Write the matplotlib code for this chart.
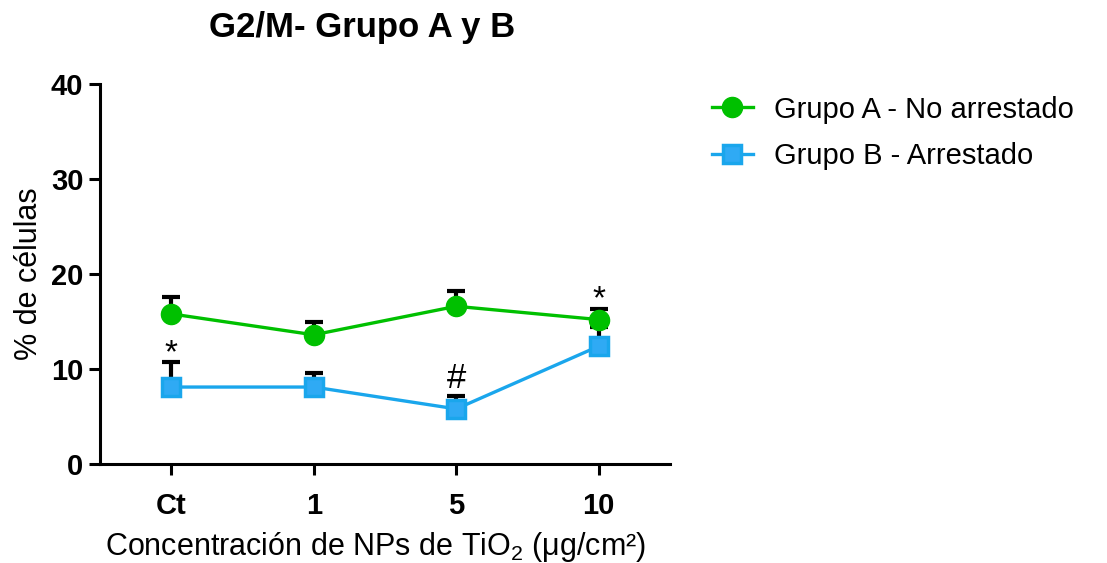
import matplotlib
matplotlib.use("Agg")
import matplotlib.pyplot as plt
from matplotlib.lines import Line2D

plt.rcParams['font.family'] = ['Liberation Sans', 'DejaVu Sans']
plt.rcParams['mathtext.fontset'] = 'custom'
plt.rcParams['mathtext.rm'] = 'Liberation Sans'
plt.rcParams['mathtext.default'] = 'regular'

categories = ["Ct", "1", "5", "10"]
grupo_a = [15.8, 13.6, 16.6, 15.2]
grupo_a_err = [1.8, 1.3, 1.6, 1.1]
grupo_b = [8.1, 8.1, 5.8, 12.4]
grupo_b_err = [2.6, 1.5, 1.4, 2.0]
# significance marks: (category index, series, symbol)
marks = [(0, "B", "*"), (3, "A", "*"), (2, "B", "#")]

green = "#00C000"
blue = "#1AA6EC"
blue_face = "#2FAAF4"

fig = plt.figure(figsize=(11.07, 5.63), dpi=100)
ax = fig.add_axes([100 / 1107, 99 / 563, 570 / 1107, 380 / 563])

x = list(range(len(categories)))

for vals, errs in ((grupo_a, grupo_a_err), (grupo_b, grupo_b_err)):
    ax.errorbar(x, vals, yerr=[[0] * len(vals), errs], fmt='none', ecolor='black',
                elinewidth=3, capsize=6.5, capthick=3, zorder=2)

ax.plot(x, grupo_a, color=green, lw=2.4, marker='o', markersize=14.5,
        markerfacecolor=green, markeredgecolor=green, zorder=3)
ax.plot(x, grupo_b, color=blue, lw=2.4, marker='s', markersize=13.5,
        markerfacecolor=blue_face, markeredgecolor=blue, markeredgewidth=2.5,
        zorder=3)

for i, series, sym in marks:
    vals, errs = (grupo_a, grupo_a_err) if series == "A" else (grupo_b, grupo_b_err)
    top = vals[i] + errs[i]
    if sym == "*":
        ax.text(i, top + 0.05, sym, ha='center', va='baseline', fontsize=24)
    else:
        ax.text(i, top + 0.85, sym, ha='center', va='baseline', fontsize=25)

ax.set_xlim(-0.5, 3.5)
ax.set_ylim(0, 40)
ax.set_yticks([0, 10, 20, 30, 40])
ax.set_xticks(x)
ax.set_xticklabels(categories)
for sp in ['top', 'right']:
    ax.spines[sp].set_visible(False)
for sp in ['left', 'bottom']:
    ax.spines[sp].set_linewidth(2.2)
ax.tick_params(axis='both', width=2.2, length=8, labelsize=21)
ax.tick_params(axis='x', pad=12)
ax.tick_params(axis='y', pad=4)
for lbl in ax.get_xticklabels() + ax.get_yticklabels():
    lbl.set_fontweight('bold')

ax.set_ylabel("% de células", fontsize=22, labelpad=5)
ax.set_xlabel("Concentración de NPs de TiO$_2$ (μg/cm²)", fontsize=22)
ax.xaxis.set_label_coords((376 - 100) / 570, -0.175)

fig.text(362 / 1107, 1 - 28 / 563, "G2/M- Grupo A y B", ha='center', va='center',
         fontsize=25, fontweight='bold')

handles = [
    Line2D([], [], color=green, lw=2.4, marker='o', markersize=14.5,
           markerfacecolor=green, markeredgecolor=green),
    Line2D([], [], color=blue, lw=2.4, marker='s', markersize=13.5,
           markerfacecolor=blue_face, markeredgecolor=blue, markeredgewidth=2.5),
]
fig.legend(handles, ["Grupo A - No arrestado", "Grupo B - Arrestado"],
           loc='upper left', bbox_to_anchor=(700 / 1107, 1 - 84 / 563),
           frameon=False, fontsize=21, handlelength=1.4, handletextpad=0.72,
           labelspacing=0.62, borderaxespad=0)

fig.savefig("out.png", dpi=100)
